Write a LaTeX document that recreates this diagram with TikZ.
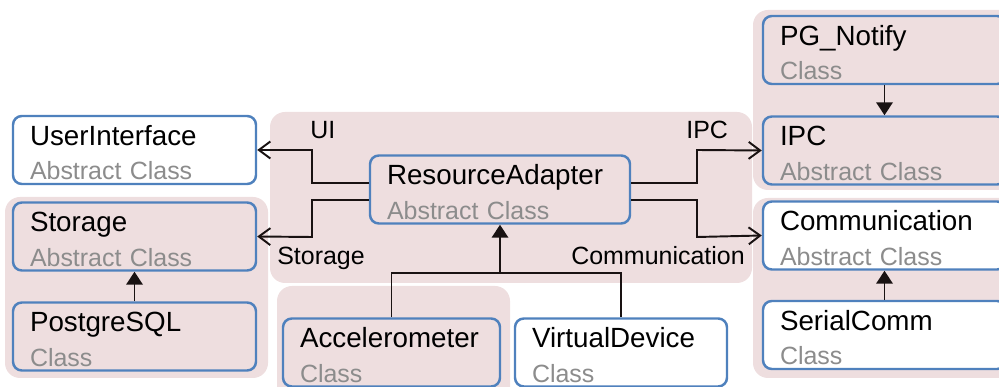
\documentclass[tikz,border=0pt]{standalone}
\usepackage{fontspec}
\setmainfont{Liberation Sans}
\usepackage{xcolor}
\usetikzlibrary{arrows.meta, positioning, calc}

\definecolor{clsblue}{RGB}{79,129,189}
\definecolor{grppink}{RGB}{238,222,223}
\definecolor{kindgray}{RGB}{140,140,140}
\definecolor{linedark}{RGB}{25,18,18}

\newcommand{\classtext}[2]{\rule{0pt}{5mm}{\fontsize{15.8pt}{19.6pt}\selectfont #1}\\\textcolor{kindgray}{#2}}

\begin{document}
\begin{tikzpicture}[
    font=\fontsize{14.2pt}{19.6pt}\selectfont,
    cls/.style={rectangle, draw=clsblue, line width=1.4pt, rounded corners=5pt, align=left, inner xsep=0.34cm, inner ysep=0pt, minimum height=1.36cm},
    grp/.style={fill=grppink, rounded corners=0.3cm},
    assoc/.style={draw=linedark, line width=1.1pt, -{Straight Barb[length=2.3mm, width=3.4mm]}},
    inherit/.style={draw=linedark, line width=1.1pt, -{Triangle[length=2.6mm, width=3.3mm]}},
    lbl/.style={inner sep=0pt, anchor=base west}
]
\clip (0,0) rectangle (19.98,7.74);

% Groups
\fill[grp] (0.10,0.18) rectangle (5.36,3.80);
\fill[grp] (5.40,2.08) rectangle (15.04,5.50);
\fill[grp] (5.54,-0.40) rectangle (10.20,2.02);
\fill[grp] (15.06,3.94) rectangle (20.40,7.54);
\fill[grp] (15.06,0.18) rectangle (20.40,3.78);

% Classes
\node[cls, fill=white, text width=4.18cm] (ui) at (2.69,4.74) {\classtext{UserInterface}{Abstract Class}};
\node[cls, text width=4.18cm] (storage) at (2.69,3.01) {\classtext{Storage}{Abstract Class}};
\node[cls, text width=4.18cm] (postgres) at (2.69,1.01) {\classtext{PostgreSQL}{Class}};
\node[cls, text width=4.52cm] (ra) at (10.00,3.95) {\classtext{ResourceAdapter}{Abstract Class}};
\node[cls, text width=3.66cm] (accel) at (7.83,0.69) {\classtext{Accelerometer}{Class}};
\node[cls, fill=white, text width=3.56cm] (vdev) at (12.42,0.69) {\classtext{VirtualDevice}{Class}};
\node[cls, text width=4.18cm] (pgnotify) at (17.69,6.74) {\classtext{PG\_Notify}{Class}};
\node[cls, text width=4.18cm] (ipc) at (17.69,4.73) {\classtext{IPC}{Abstract Class}};
\node[cls, fill=white, text width=4.18cm] (comm) at (17.69,3.03) {\classtext{Communication}{Abstract Class}};
\node[cls, fill=white, text width=4.18cm] (serial) at (17.69,1.04) {\classtext{SerialComm}{Class}};

% Associations
\draw[assoc] ([yshift=1.3mm]ra.west) -| (6.24,4.74) -- (ui.east);
\draw[assoc] ([yshift=-2.1mm]ra.west) -| (6.24,3.00) -- (storage.east);
\draw[assoc] ([yshift=1.3mm]ra.east) -| (13.94,4.74) -- (ipc.west);
\draw[assoc] ([yshift=-2.1mm]ra.east) -| (13.94,3.00) -- (comm.west);

\node[lbl] (lblui) at (6.20,4.96) {UI};
\node[lbl] (lblipc) at (13.72,4.96) {IPC};
\node[lbl] (lblstorage) at (5.54,2.44) {Storage};
\node[lbl, anchor=base east] (lblcomm) at (14.90,2.44) {Communication};

% Inheritance
\coordinate (join) at (ra.south |- 0,2.28);
\draw[draw=linedark, line width=1.1pt] (accel.north) |- (join) -| (vdev.north);
\draw[inherit] (join) -- (ra.south);
\draw[inherit] (postgres.north) -- (storage.south);
\draw[inherit] (pgnotify.south) -- (ipc.north);
\draw[inherit] (serial.north) -- (comm.south);

\end{tikzpicture}
\end{document}
